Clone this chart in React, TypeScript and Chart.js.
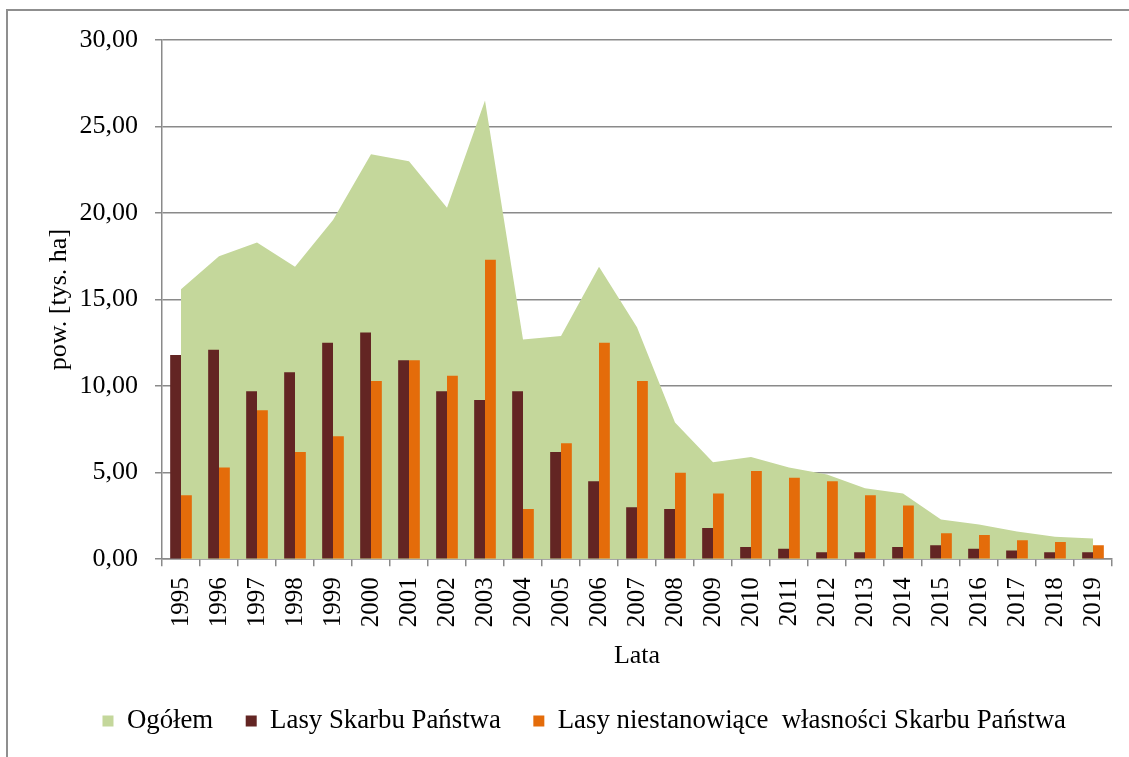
import React, { useEffect, useRef } from "react";
import { Chart, registerables } from "chart.js";

Chart.register(...registerables);

const years = [
  "1995", "1996", "1997", "1998", "1999", "2000", "2001", "2002", "2003", "2004",
  "2005", "2006", "2007", "2008", "2009", "2010", "2011", "2012", "2013", "2014",
  "2015", "2016", "2017", "2018", "2019",
];
const ogolem = [
  15.6, 17.5, 18.3, 16.9, 19.6, 23.4, 23.0, 20.3, 26.5, 12.7,
  12.9, 16.9, 13.4, 7.9, 5.6, 5.9, 5.3, 4.9, 4.1, 3.8,
  2.3, 2.0, 1.6, 1.3, 1.2,
];
const lasySkarbuPanstwa = [
  11.8, 12.1, 9.7, 10.8, 12.5, 13.1, 11.5, 9.7, 9.2, 9.7,
  6.2, 4.5, 3.0, 2.9, 1.8, 0.7, 0.6, 0.4, 0.4, 0.7,
  0.8, 0.6, 0.5, 0.4, 0.4,
];
const lasyNiestanowiace = [
  3.7, 5.3, 8.6, 6.2, 7.1, 10.3, 11.5, 10.6, 17.3, 2.9,
  6.7, 12.5, 10.3, 5.0, 3.8, 5.1, 4.7, 4.5, 3.7, 3.1,
  1.5, 1.4, 1.1, 1.0, 0.8,
];
const seriesNames = [
  "Ogółem",
  "Lasy Skarbu Państwa",
  "Lasy niestanowiące  własności Skarbu Państwa",
];
const yTitle = "pow. [tys. ha]";
const xTitle = "Lata";
const yMin = 0;
const yMax = 30;
const yStep = 5;

const FONT = '"Liberation Serif", "Times New Roman", serif';
const GRID = "#8a8a8a";
const GREEN = "#C4D79B";
const DARK = "#632523";
const ORANGE = "#E46C0A";

export default function App() {
  const ref = useRef<HTMLCanvasElement>(null);

  useEffect(() => {
    if (!ref.current) return;
    const chart = new Chart(ref.current, {
      type: "bar",
      data: {
        labels: years,
        datasets: [
          {
            type: "line",
            label: seriesNames[0],
            data: ogolem,
            fill: "origin",
            backgroundColor: GREEN,
            borderColor: "rgba(0,0,0,0)",
            borderWidth: 0,
            pointRadius: 0,
            pointHoverRadius: 0,
            tension: 0,
            order: 2,
          } as any,
          {
            type: "bar",
            label: seriesNames[1],
            data: lasySkarbuPanstwa,
            backgroundColor: DARK,
            borderWidth: 0,
            categoryPercentage: 0.57,
            barPercentage: 1,
            order: 1,
          },
          {
            type: "bar",
            label: seriesNames[2],
            data: lasyNiestanowiace,
            backgroundColor: ORANGE,
            borderWidth: 0,
            categoryPercentage: 0.57,
            barPercentage: 1,
            order: 1,
          },
        ],
      },
      options: {
        responsive: false,
        animation: false,
        devicePixelRatio: 1,
        layout: { padding: { left: 56.5, right: 17, top: 40, bottom: 12.5 } },
        plugins: {
          tooltip: { enabled: false },
          legend: {
            position: "bottom",
            labels: {
              font: { family: FONT, size: 26.8 },
              color: "#000",
              boxWidth: 11,
              boxHeight: 11,
              padding: 32.5,
              sort: (a: any, b: any) => a.datasetIndex - b.datasetIndex,
              generateLabels: (c: any) =>
                c.data.datasets.map((ds: any, i: number) => ({
                  text: ds.label,
                  fillStyle: ds.backgroundColor,
                  strokeStyle: "rgba(0,0,0,0)",
                  lineWidth: 0,
                  hidden: false,
                  datasetIndex: i,
                  fontColor: "#000",
                })),
            },
          },
        },
        scales: {
          x: {
            offset: true,
            grid: {
              display: true,
              offset: true,
              drawOnChartArea: false,
              drawTicks: true,
              tickLength: 7,
              color: GRID,
              lineWidth: 1.5,
            },
            border: { display: true, color: GRID, width: 1.5 },
            ticks: {
              font: { family: FONT, size: 25 },
              color: "#000",
              minRotation: 90,
              maxRotation: 90,
              autoSkip: false,
              padding: 11,
            },
            title: {
              display: true,
              text: xTitle,
              font: { family: FONT, size: 26 },
              color: "#000",
              padding: { top: 0, bottom: 3.4 },
            },
            afterFit: (s: any) => {
              s.height = 116;
              s.paddingLeft = 0;
              s.paddingRight = 0;
            },
          },
          y: {
            min: yMin,
            max: yMax,
            grid: {
              color: GRID,
              lineWidth: 1.5,
              drawTicks: true,
              tickLength: 7,
            },
            border: { display: true, color: GRID, width: 1.5 },
            ticks: {
              stepSize: yStep,
              font: { family: FONT, size: 26 },
              color: "#000",
              padding: 17,
              callback: (v: any) => Number(v).toFixed(2).replace(".", ","),
            },
            title: {
              display: true,
              text: yTitle,
              font: { family: FONT, size: 26 },
              color: "#000",
              padding: { top: -13, bottom: 0 },
            },
            afterFit: (s: any) => {
              s.width = 105.5;
              s.paddingTop = 0;
              s.paddingBottom = 0;
            },
          },
        },
      },
    });
    return () => chart.destroy();
  }, []);

  return (
    <div
      style={{
        position: "fixed",
        left: 0,
        top: 0,
        width: 1129,
        height: 757,
        overflow: "hidden",
        background: "#fff",
      }}
    >
      <div
        style={{
          position: "absolute",
          left: 6,
          top: 9,
          width: 1400,
          height: 1000,
          border: "2px solid #8f8f8f",
          boxSizing: "border-box",
          pointerEvents: "none",
        }}
      />
      <canvas
        ref={ref}
        width={1129}
        height={757}
        style={{ position: "absolute", left: 0, top: 0, width: 1129, height: 757 }}
      />
    </div>
  );
}
